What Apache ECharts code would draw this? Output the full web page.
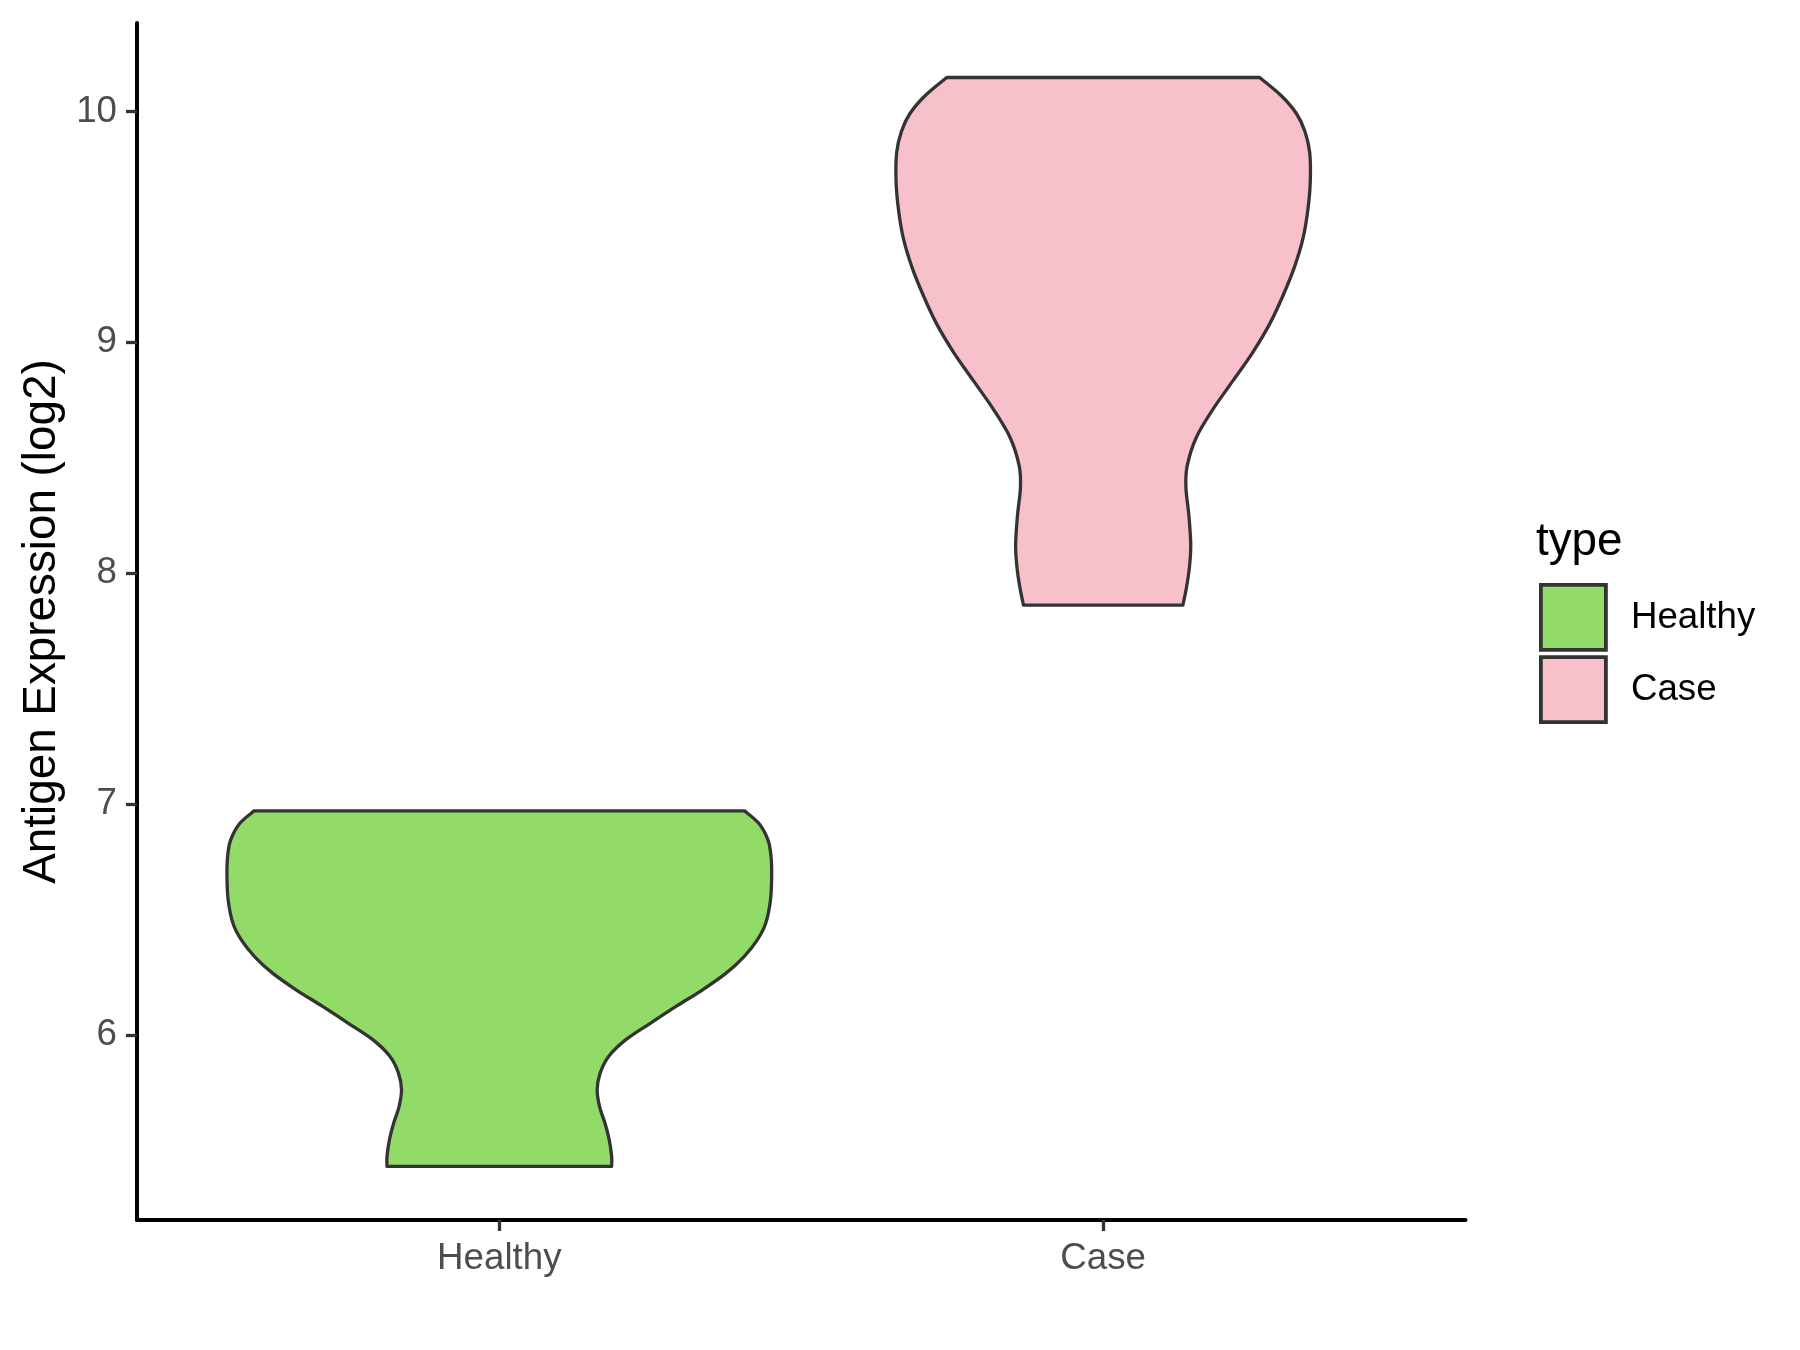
<!DOCTYPE html>
<html>
<head>
<meta charset="utf-8">
<script src="https://cdn.jsdelivr.net/npm/echarts@6/dist/echarts.min.js"></script>
<style>
  html, body { margin: 0; padding: 0; background: #ffffff; }
  #chart { width: 1800px; height: 1350px; }
</style>
</head>
<body>
<div id="chart"></div>
<script>
// Groups on the x axis
const categories = ['Healthy', 'Case'];
const groupColors = ['#93DB69', '#F7C0CB'];

// Violin outlines: expression level (log2) and half-width of the density (x units)
const healthyLevels = [6.971, 6.916, 6.844, 6.772, 6.685, 6.584, 6.483, 6.411, 6.339, 6.267, 6.195,
                       6.123, 6.051, 5.979, 5.907, 5.835, 5.763, 5.690, 5.618, 5.546, 5.474, 5.431];
const healthyHalfWidth = [0.406, 0.430, 0.445, 0.450, 0.451, 0.449, 0.441, 0.427, 0.405, 0.375, 0.336,
                          0.292, 0.250, 0.209, 0.181, 0.167, 0.162, 0.166, 0.175, 0.182, 0.186, 0.186];

const caseLevels = [10.147, 10.068, 9.991, 9.914, 9.822, 9.698, 9.575, 9.451, 9.328, 9.204, 9.081,
                    8.958, 8.834, 8.711, 8.587, 8.464, 8.371, 8.248, 8.124, 8.031, 7.939, 7.862];
const caseHalfWidth = [0.259, 0.295, 0.320, 0.334, 0.342, 0.343, 0.339, 0.331, 0.317, 0.298, 0.276,
                       0.248, 0.215, 0.182, 0.154, 0.139, 0.137, 0.142, 0.145, 0.143, 0.138, 0.132];

// Axis ticks
const yTicks = [6, 7, 8, 9, 10];
const xTicks = [1, 2];

const profiles = [
  { levels: healthyLevels, half: healthyHalfWidth },
  { levels: caseLevels, half: caseHalfWidth }
];

// Catmull-Rom spline through pixel points, as cubic bezier path commands
function splineCommands(pts) {
  let d = '';
  for (let i = 0; i < pts.length - 1; i++) {
    const p0 = pts[i - 1] || pts[i];
    const p1 = pts[i];
    const p2 = pts[i + 1];
    const p3 = pts[i + 2] || pts[i + 1];
    const c1x = p1[0] + (p2[0] - p0[0]) / 6, c1y = p1[1] + (p2[1] - p0[1]) / 6;
    const c2x = p2[0] - (p3[0] - p1[0]) / 6, c2y = p2[1] - (p3[1] - p1[1]) / 6;
    d += ' C' + c1x + ',' + c1y + ' ' + c2x + ',' + c2y + ' ' + p2[0] + ',' + p2[1];
  }
  return d;
}

function violinItem(params, api) {
  const center = api.value(0);
  const prof = profiles[params.seriesIndex];
  const left = prof.levels.map((lv, i) => api.coord([center - prof.half[i], lv]));
  const right = prof.levels.map((lv, i) => api.coord([center + prof.half[i], lv])).reverse();
  let d = 'M' + left[0][0] + ',' + left[0][1];
  d += splineCommands(left);
  d += ' L' + right[0][0] + ',' + right[0][1];
  d += splineCommands(right);
  d += ' Z';
  return {
    type: 'path',
    shape: { pathData: d },
    style: {
      fill: groupColors[params.seriesIndex],
      stroke: '#333333',
      lineWidth: 3.3,
      lineJoin: 'round'
    }
  };
}

const FONT = '"Liberation Sans", Arial, sans-serif';

const chart = echarts.init(document.getElementById('chart'), null, { renderer: 'canvas' });
chart.setOption({
  backgroundColor: '#ffffff',
  animation: false,
  grid: { left: 137, right: 334.5, top: 23, bottom: 130, containLabel: false },
  xAxis: {
    type: 'value',
    min: 0.4,
    max: 2.6,
    splitLine: { show: false },
    axisLine: { show: true, lineStyle: { color: '#000000', width: 4 } },
    axisTick: { show: true, length: 11, lineStyle: { color: '#333333', width: 3.3 }, customValues: xTicks },
    axisLabel: {
      customValues: xTicks,
      margin: 20,
      color: '#4D4D4D',
      fontSize: 36.7,
      fontFamily: FONT,
      formatter: v => categories[Math.round(v) - 1]
    }
  },
  yAxis: {
    type: 'value',
    min: 5.199,
    max: 10.383,
    name: 'Antigen Expression (log2)',
    nameLocation: 'middle',
    nameGap: 71,
    nameRotate: 90,
    nameTextStyle: { color: '#000000', fontSize: 45.8, fontFamily: FONT },
    splitLine: { show: false },
    axisLine: { show: true, lineStyle: { color: '#000000', width: 4 } },
    axisTick: { show: true, length: 11, lineStyle: { color: '#333333', width: 3.3 }, customValues: yTicks },
    axisLabel: {
      customValues: yTicks,
      margin: 20,
      color: '#4D4D4D',
      fontSize: 36.7,
      fontFamily: FONT
    }
  },
  legend: {
    orient: 'vertical',
    left: 1539,
    top: 583,
    padding: 0,
    itemWidth: 65,
    itemHeight: 65,
    itemGap: 3.5,
    icon: 'rect',
    selectedMode: false,
    textStyle: { color: '#000000', fontSize: 36.7, fontFamily: FONT, padding: [12, 0, 0, 20] },
    data: categories.map((c, i) => ({
      name: c,
      itemStyle: { color: groupColors[i], borderColor: '#333333', borderWidth: 3.8 }
    }))
  },
  graphic: [{
    type: 'text',
    left: 1536,
    top: 519,
    style: { text: 'type', fill: '#000000', font: '45.8px ' + FONT }
  }],
  series: categories.map((c, i) => ({
    type: 'custom',
    name: c,
    renderItem: violinItem,
    itemStyle: { color: groupColors[i], borderColor: '#333333', borderWidth: 3 },
    encode: { x: 0 },
    data: [[xTicks[i]]]
  }))
});
</script>
</body>
</html>
